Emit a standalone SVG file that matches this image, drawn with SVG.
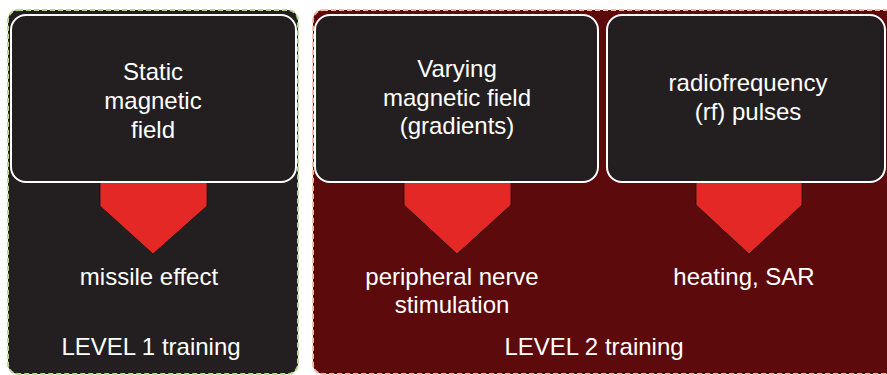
<svg xmlns="http://www.w3.org/2000/svg" width="887" height="375" viewBox="0 0 887 375">
<style>
.t{font-family:"Liberation Sans",Arial,sans-serif;font-size:24px;fill:#ffffff;text-anchor:middle}
.box{fill:#231f20;stroke:#ffffff;stroke-width:2}
.arr{fill:#e32826;stroke:#111;stroke-width:0.8}
</style>
<rect width="887" height="375" fill="#ffffff"/>
<g id="level1">
<rect x="8" y="10" width="290" height="364" rx="10" fill="#231f20" stroke="#b9d98a" stroke-width="2" stroke-dasharray="5 3"/>
<text class="t" x="151" y="355">LEVEL 1 training</text>
</g>
<g id="level2">
<rect x="313" y="10" width="590" height="364" rx="10" fill="#5c0a0c" stroke="#f5b9a5" stroke-width="2" stroke-dasharray="5 3"/>
<text class="t" x="594" y="355">LEVEL 2 training</text>
</g>
<g id="connectors">
<polygon class="arr" points="100,182 207,182 207,206 153,254 100,206"/>
<polygon class="arr" points="404,182 511,182 511,205 457,254 404,205"/>
<polygon class="arr" points="696,182 802,182 802,205 749,254 696,205"/>
</g>
<g id="static">
<rect class="box" x="11" y="15" width="285" height="167" rx="15"/>
<text class="t" x="153" y="80">Static</text>
<text class="t" x="153" y="109">magnetic</text>
<text class="t" x="153" y="138">field</text>
</g>
<g id="varying">
<rect class="box" x="315" y="15" width="283" height="167" rx="15"/>
<text class="t" x="457" y="77">Varying</text>
<text class="t" x="457" y="106">magnetic field</text>
<text class="t" x="457" y="134">(gradients)</text>
</g>
<g id="rf">
<rect class="box" x="607" y="15" width="278" height="167" rx="15"/>
<text class="t" x="748" y="91">radiofrequency</text>
<text class="t" x="748" y="120">(rf) pulses</text>
</g>
<g id="missile">
<text class="t" x="149" y="285">missile effect</text>
</g>
<g id="pns">
<text class="t" x="452" y="285">peripheral nerve</text>
<text class="t" x="452" y="313">stimulation</text>
</g>
<g id="heating">
<text class="t" x="744" y="285">heating, SAR</text>
</g>
</svg>
